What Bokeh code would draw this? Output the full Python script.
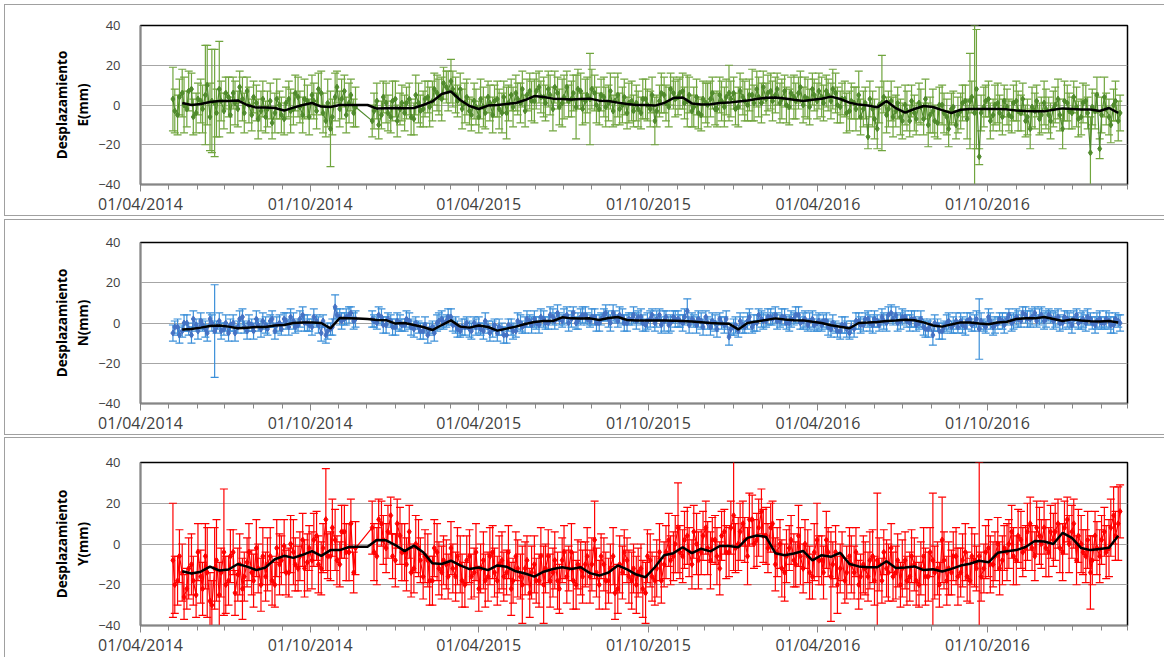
import numpy as np
import pandas as pd
from bokeh.plotting import figure
from bokeh.models import ColumnDataSource, FixedTicker, DatetimeTickFormatter, Range1d
from bokeh.layouts import column
from bokeh.embed import file_html
from bokeh.resources import INLINE

# ---------------- data ----------------
# two interleaved samplings of the daily solutions (every 5 days, offset 2 days)
RAW_START_A = "2014-05-06"
RAW_START_B = "2014-05-08"
RAW_STEP = "5D"
LINE_START = "2014-05-16"  # running mean (black)
LINE_STEP = "10D"
X_START = "2014-04-01"
X_END = "2017-03-01"
MAJOR_TICKS = ["2014-04-01", "2014-10-01", "2015-04-01", "2015-10-01", "2016-04-01", "2016-10-01"]
Y_TICKS = [-40, -20, 0, 20, 40]

E_val_a = [3, -5, 6, -2, 8, -4, 2, 5, -6, 1,
           8, -3, 4, 6, -2, 3, 7, -5, 1, -3,
           -6, 2, -4, 0, -7, 3, -2, 4, -5, 2,
           5, -3, 6, -8, -12, 4, -2, 7, 1, -4,
           None, None, None, -8, 2, -5, 1, -6, 3, -2,
           -4, 3, -7, 1, -2, 4, 2, 6, 3, 9,
           12, 5, 8, 1, -3, 2, -6, -1, 4, -5,
           3, -4, -4, 5, 6, 1, -3, 7, 2, 9,
           4, 8, -2, 6, 1, 9, 3, -1, 7, 2,
           3, 6, -2, 4, 1, -3, 5, 0, -4, 2,
           1, -4, 3, -2, -8, 2, 5, -1, 6, 4,
           7, 2, -3, 4, -5, 1, 3, -2, 5, -1,
           6, 6, -1, 4, 0, 5, 8, 1, 3, 7,
           5, 1, 7, -1, 4, 6, 0, 3, 8, 2,
           4, 7, 2, 6, -1, 3, -3, 1, 5, -2,
           -16, -2, -12, 1, -5, 2, -3, -6, 0, -8,
           -4, 1, -7, -10, -3, -9, 0, -6, -2, -10,
           -3, 2, 2, -4, -26, -1, 3, -5, 1, -6,
           -1, -6, 2, -4, -8, -12, -3, -7, 1, -5,
           -2, 3, -12, 1, -4, -1, -6, 2, -24, -3,
           -22, 4, -6, 0, -8]
E_err_a = [16, 10, 12, 9, 8, 10, 11, 25, 17, 27,
           24, 9, 10, 8, 9, 11, 7, 8, 9, 10,
           8, 9, 10, 7, 8, 9, 8, 10, 9, 8,
           10, 9, 11, 8, 19, 12, 9, 8, 10, 7,
           None, None, None, 8, 9, 7, 10, 8, 9, 8,
           9, 8, 8, 10, 9, 8, 10, 9, 11, 8,
           11, 9, 8, 10, 7, 9, 8, 10, 8, 9,
           9, 10, 13, 8, 9, 10, 8, 9, 11, 8,
           10, 9, 11, 8, 12, 8, 9, 16, 9, 11,
           23, 9, 8, 10, 9, 8, 11, 9, 8, 10,
           9, 8, 10, 9, 12, 8, 9, 10, 8, 9,
           9, 13, 8, 9, 8, 10, 9, 8, 9, 10,
           14, 8, 10, 9, 8, 13, 9, 10, 8, 9,
           9, 10, 8, 9, 11, 8, 9, 10, 8, 9,
           10, 8, 9, 10, 8, 9, 10, 8, 12, 9,
           6, 9, 10, 24, 9, 10, 8, 9, 10, 8,
           9, 10, 8, 11, 11, 8, 10, 9, 8, 7,
           9, 8, 24, 44, 4, 10, 9, 8, 10, 9,
           9, 8, 10, 9, 8, 10, 9, 8, 11, 9,
           9, 10, 10, 9, 8, 10, 9, 8, 18, 9,
           5, 10, 9, 8, 10]
E_val_b = [-3, 4, 0, 7, -6, 3, -2, 10, 2, -4,
           2, 6, -5, 1, 9, -4, 0, 4, -7, 3,
           -2, -9, 3, -5, 1, -3, 6, -1, 3, -6,
           2, 8, -4, 1, -6, 9, 3, -5, 5, -1,
           None, None, None, -3, -10, 4, -4, 2, -8, 1,
           1, -6, 5, -3, 3, -1, 8, 4, 11, 7,
           8, 2, -2, 4, -5, -1, 3, -4, 1, 2,
           -2, 4, 1, -1, 3, 8, 5, 2, 7, 4,
           1, 5, 9, -1, 4, 2, 6, 8, -2, 5,
           8, 0, 5, -1, 7, 2, -2, 4, 1, -3,
           -2, 3, 0, 5, -3, 6, 1, 8, 3, 6,
           1, 5, -1, -4, 3, 0, 6, -2, 2, 4,
           3, -2, 7, 2, 5, 1, 4, 9, 6, 2,
           8, 3, 0, 6, 2, 9, 4, -1, 5, 7,
           1, 5, 8, 0, 3, -4, 2, -2, -6, 1,
           3, -7, 0, 4, -2, -6, 1, -8, -3, 2,
           -7, -1, 3, -5, -8, 0, -4, -12, -1, -5,
           1, -7, 4, 8, -4, 2, -8, 0, -4, 2,
           -5, 1, -3, 3, -6, -1, 2, -5, -2, -8,
           0, -5, 2, -3, 4, -7, 1, -4, -1, 5,
           -5, -2, -10, 2, -4]
E_err_b = [11, 9, 14, 10, 9, 8, 12, 20, 26, 12,
           10, 8, 9, 11, 8, 10, 9, 8, 10, 9,
           9, 8, 10, 9, 8, 11, 9, 8, 10, 9,
           9, 8, 10, 12, 9, 8, 10, 9, 8, 10,
           None, None, None, 9, 7, 8, 9, 10, 8, 9,
           8, 9, 10, 8, 9, 10, 8, 9, 8, 10,
           9, 8, 10, 9, 8, 9, 10, 8, 9, 8,
           10, 8, 9, 10, 8, 9, 8, 10, 9, 8,
           9, 10, 8, 9, 11, 8, 9, 10, 8, 9,
           10, 9, 8, 10, 9, 12, 8, 9, 10, 8,
           9, 10, 8, 9, 8, 10, 9, 8, 9, 8,
           8, 9, 10, 8, 9, 11, 8, 9, 10, 9,
           9, 8, 9, 10, 8, 9, 10, 8, 9, 10,
           8, 10, 9, 8, 9, 8, 10, 9, 8, 9,
           9, 8, 10, 9, 8, 10, 9, 11, 9, 8,
           9, 10, 9, 8, 9, 10, 8, 9, 10, 8,
           8, 9, 10, 9, 8, 9, 10, 9, 8, 9,
           9, 10, 8, 30, 9, 8, 9, 10, 9, 8,
           8, 9, 10, 8, 9, 10, 8, 9, 10, 9,
           9, 8, 10, 9, 8, 9, 10, 8, 9, 9,
           9, 8, 9, 10, 9]
E_line = [1, 0, 0.5, 1.5, 2, 2, 2.3, 0, -1.3, -1.3,
          -1.5, -2.8, -1.3, 0, 1, -0.8, -1, 0, 0, 0,
          0, -1.8, -1.6, -1.5, -1.6, -1.5, 0, 1.8, 5.5, 6.8,
          2.5, -0.5, -2, -0.3, 0, 0.5, 1, 2.5, 4.5, 4,
          3.2, 3, 2.8, 3, 3.2, 2.2, 2, 1.2, 0.5, 0,
          0, -0.3, 1, 3.5, 3.8, 0.8, 0.2, 0.4, 1, 1.2,
          1.8, 2.3, 3, 3.6, 3.8, 3.3, 2.6, 2, 2.6, 3.1,
          4.2, 3, 1.2, 0.2, -0.3, -1.2, 2, -1.6, -3.8, -2,
          -0.5, -1, -2.6, -4, -2.4, -2, -2, -2, -2, -2.2,
          -2.8, -3, -3.1, -3.2, -2.4, -1.7, -2, -2.3, -2.3, -3,
          -1.5, -4]

N_val_a = [-5, -2, -4, 0, -6, -1, 1, -3, 2, -4,
           1, -3, -5, 0, -2, 3, -4, -1, 2, -3,
           -1, 1, -4, 0, 2, -2, 1, -1, 4, 0,
           -2, 1, -5, -6, -3, 8, 3, 2, 4, 1,
           None, None, None, 2, 0, 3, -1, 1, -2, 0,
           -1, 1, -3, -2, -4, -6, -2, 0, 2, 1,
           3, -1, -4, -2, -3, 0, -1, -4, -2, -3,
           -5, -3, -6, -2, -4, 0, -1, 1, 2, -1,
           2, 0, 3, 5, 1, 4, 2, 0, 3, 4,
           1, 3, 0, 4, 2, 5, 1, 3, 0, 2,
           1, 3, -1, 2, 0, 4, 1, -1, 3, 2,
           0, 6, 2, -1, 1, 3, -2, 0, 2, -1,
           -7, -2, -4, -1, 1, -2, 0, 2, 1, 3,
           4, 1, 3, 0, 2, 4, 1, -1, 2, 0,
           -1, 1, -3, -2, -4, -1, -5, -3, 1, -1,
           2, -1, 1, 3, 0, 5, 4, 1, 3, 0,
           2, 0, -2, -3, -6, -1, -4, 0, -2, 1,
           1, -2, 2, 0, -3, -1, 3, -2, 0, 1,
           2, 0, 3, 1, 4, 2, 5, 3, 1, 4,
           1, 3, 0, 2, -1, 4, 1, 0, 2, -1,
           2, 0, 1, -1, 1]
N_err_a = [4, 4, 3, 4, 4, 3, 4, 4, 3, 23,
           4, 3, 4, 4, 3, 4, 4, 3, 4, 4,
           4, 3, 4, 4, 3, 4, 4, 3, 4, 4,
           4, 3, 4, 4, 3, 6, 4, 3, 4, 4,
           None, None, None, 4, 3, 4, 4, 3, 4, 4,
           3, 4, 4, 3, 4, 4, 3, 4, 4, 3,
           4, 4, 3, 4, 4, 3, 4, 4, 3, 4,
           4, 3, 4, 4, 3, 4, 4, 3, 4, 4,
           4, 3, 4, 4, 3, 4, 4, 3, 4, 4,
           3, 4, 4, 3, 4, 4, 3, 4, 4, 3,
           4, 4, 3, 4, 4, 3, 5, 4, 3, 4,
           4, 6, 3, 4, 4, 3, 4, 4, 3, 4,
           4, 4, 3, 4, 4, 3, 4, 4, 3, 4,
           4, 3, 4, 4, 3, 4, 4, 3, 4, 4,
           3, 4, 4, 3, 4, 4, 3, 4, 4, 3,
           4, 4, 3, 4, 4, 4, 4, 4, 3, 4,
           4, 3, 4, 4, 5, 3, 4, 4, 3, 4,
           4, 4, 3, 4, 15, 3, 4, 4, 3, 4,
           3, 4, 4, 3, 4, 4, 3, 4, 4, 3,
           4, 4, 3, 4, 4, 3, 4, 4, 3, 4,
           4, 3, 4, 4, 3]
N_val_b = [-2, -6, 0, -3, 2, -4, -1, -5, 0, -2,
           -4, 0, -1, -5, 2, -2, 0, -4, -1, 1,
           -3, 2, -1, -3, 1, 3, -2, 2, 0, -1,
           3, -1, 1, -4, -2, 4, 1, 3, 5, 2,
           None, None, None, 1, 4, -1, 2, -2, 1, -1,
           2, -2, 0, -4, -1, -3, -5, 1, 0, 3,
           -1, -3, -2, 0, -4, -2, -3, 1, -5, -1,
           -2, -6, -1, -4, 1, -2, 2, -1, 0, 3,
           0, 4, 1, 2, 3, 0, 5, 1, 4, 2,
           3, 0, 2, 5, 0, 3, 4, 0, 2, 4,
           3, 0, 1, 4, 2, -1, 3, 0, 2, 1,
           3, -1, 1, 2, -2, 0, 1, -3, 0, 2,
           -3, -1, 1, -2, 3, 0, 4, 1, 3, 2,
           1, 3, 0, 2, 4, 0, 2, 1, -1, 1,
           1, -2, 0, -4, -1, -3, -2, 1, -1, 2,
           0, 2, -1, 1, 4, 2, 0, 3, 1, 2,
           -1, 2, -3, -1, 0, -4, -2, 1, -1, -2,
           -1, 1, -1, 2, 1, -2, 1, -1, 2, -1,
           4, 1, 2, 5, 2, 3, 1, 4, 2, 3,
           2, 0, 3, 1, 2, 0, 2, 3, 0, 1,
           0, 2, -1, 2, 0]
N_err_b = [3, 4, 4, 3, 4, 4, 3, 4, 4, 3,
           4, 4, 3, 4, 4, 3, 4, 4, 3, 4,
           3, 4, 4, 3, 4, 4, 3, 4, 4, 3,
           4, 4, 3, 4, 4, 3, 4, 4, 3, 4,
           None, None, None, 3, 4, 4, 3, 4, 4, 3,
           4, 4, 3, 4, 4, 3, 4, 4, 3, 4,
           3, 4, 4, 3, 4, 4, 3, 4, 4, 3,
           4, 4, 3, 4, 4, 3, 4, 4, 3, 4,
           3, 4, 4, 3, 4, 4, 3, 4, 4, 3,
           4, 4, 3, 4, 4, 3, 4, 4, 3, 4,
           3, 4, 4, 3, 4, 4, 3, 4, 4, 3,
           4, 4, 3, 4, 4, 3, 4, 4, 3, 4,
           3, 4, 4, 3, 4, 4, 3, 4, 4, 3,
           4, 4, 3, 4, 4, 3, 4, 4, 3, 4,
           3, 4, 4, 3, 4, 4, 3, 4, 4, 3,
           4, 4, 3, 4, 4, 3, 4, 4, 3, 4,
           3, 4, 4, 3, 4, 4, 3, 4, 4, 3,
           4, 4, 3, 4, 4, 3, 4, 4, 3, 4,
           3, 4, 4, 3, 4, 4, 3, 4, 4, 3,
           4, 4, 3, 4, 4, 3, 4, 4, 3, 4,
           3, 4, 4, 3, 4]
N_line = [-3.2, -3, -2.3, -1.5, -1.2, -1.8, -2.6, -2.3, -2, -2,
          -1.2, -1, 0, 0.2, 0.2, 0, -2.7, 2.5, 2.4, 2.2,
          2, 1.5, 1.4, -0.3, 0, -1, -2, -3.5, -1, 1.3,
          -1.8, -2.3, -1.2, -2, -3.8, -2.8, -1.8, -0.5, 0.5, 1,
          1, 2.8, 2.3, 2.2, 2.3, 1.5, 2.5, 3, 1.5, 1.3,
          1.3, 1.3, 1.2, 1.1, 1, 0.7, 0.4, 0, -0.2, -0.4,
          -3.2, 0, 0.8, 1.5, 2.3, 1.7, 1.4, 1.3, 0.6, 0,
          -1.1, -1.9, -2.6, 0, 0.2, 0.5, 1, 1.2, 1.6, 1.4,
          0.3, -1.2, -1.8, -0.7, 0.3, 0.2, -0.3, -0.6, 0.2, 0.6,
          2, 2.4, 2.3, 3, 2, 1, 1.8, 1.3, 0.9, 0.7,
          1, 0.3]

Y_val_a = [-8, -18, -14, -22, -10, -25, -16, -6, -28, -12,
           -25, -4, -18, -4, -15, -22, -9, -14, -2, -20,
           -16, -6, -20, -10, -1, -14, -4, -12, 2, -9,
           -8, 4, -12, 12, -6, 2, -10, 6, -4, -14,
           None, None, None, 8, -6, 10, -2, 14, -8, 4,
           -4, 6, -12, -2, -16, -8, -18, -4, -14, -10,
           -2, -16, -10, -20, -6, -14, -22, -8, -16, -4,
           -18, -8, -14, -22, -6, -16, -12, -24, -10, -18,
           -20, -6, -14, -18, -8, -16, -4, -20, -12, -10,
           -16, 2, -20, -10, -18, -6, -22, -14, -8, -18,
           -20, -12, -24, -8, -18, -4, -10, 2, -6, 8,
           -6, 4, -10, 0, -4, 8, -8, 2, -12, 6,
           -4, 14, 0, 10, -6, 12, 2, 16, 4, 8,
           -10, 0, -14, -2, -8, 4, -12, -6, -16, 2,
           -8, 2, -16, -4, -12, -18, -6, -14, -20, -10,
           -16, -6, -8, -18, -12, -2, -14, -20, -8, -16,
           -10, -20, -6, -16, -8, -12, 2, -18, -14, -6,
           -14, -4, -18, -8, -6, -12, -2, -10, 0, -8,
           -4, 6, -8, 2, -2, 10, -6, 4, 8, -4,
           2, 10, -4, 12, 6, -8, 0, -6, -14, 4,
           -6, 6, -2, 14, 10]
Y_err_a = [28, 12, 14, 10, 15, 11, 13, 16, 14, 20,
           16, 31, 12, 11, 13, 15, 12, 11, 14, 13,
           12, 14, 11, 15, 13, 12, 16, 11, 13, 14,
           14, 12, 13, 25, 12, 15, 11, 13, 14, 10,
           None, None, None, 13, 14, 11, 12, 9, 13, 14,
           14, 13, 12, 14, 11, 13, 12, 14, 13, 12,
           13, 12, 14, 11, 13, 12, 11, 14, 12, 13,
           12, 14, 11, 13, 12, 11, 13, 12, 14, 13,
           19, 13, 12, 14, 11, 13, 14, 12, 13, 11,
           13, 19, 12, 13, 11, 14, 12, 13, 11, 14,
           14, 12, 15, 13, 12, 14, 11, 13, 12, 22,
           13, 14, 12, 15, 11, 13, 14, 12, 13, 11,
           12, 27, 13, 11, 14, 12, 13, 11, 14, 12,
           13, 12, 14, 11, 13, 15, 12, 13, 11, 18,
           12, 14, 22, 13, 12, 11, 14, 13, 12, 14,
           12, 13, 33, 11, 14, 12, 13, 11, 14, 12,
           13, 11, 14, 12, 33, 13, 21, 12, 11, 14,
           12, 14, 11, 13, 46, 12, 14, 11, 13, 12,
           14, 13, 12, 14, 11, 13, 12, 14, 13, 12,
           13, 12, 14, 11, 13, 12, 14, 13, 18, 12,
           13, 12, 14, 14, 18]
Y_val_b = [-20, -6, -26, -12, -18, -4, -22, -14, -30, -8,
           -14, -20, -6, -24, -10, -16, -4, -18, -12, -6,
           -10, -18, -2, -8, -14, 0, -10, -6, -12, -2,
           2, -10, -2, -6, 8, -8, 6, -4, 10, -2,
           None, None, None, -4, 12, 2, 6, -6, 10, -4,
           -10, -14, 0, -8, -6, -18, -2, -12, -8, -16,
           -12, -6, -18, -8, -16, -4, -12, -18, -6, -14,
           -10, -16, -4, -18, -12, -20, -8, -14, -18, -6,
           -12, -18, -8, -22, -4, -12, -18, -10, -16, -6,
           -10, -14, -6, -18, -12, -24, -10, -4, -16, -12,
           -14, -22, -6, -16, -12, -18, -4, -8, 0, -4,
           2, -4, 6, -8, 4, -2, 2, -6, 4, -4,
           8, -2, 6, 2, 12, 0, 8, 4, -2, 10,
           -4, -12, -6, 2, -10, -6, 0, -14, -4, -8,
           -14, -4, -10, -20, -6, -14, -10, -4, -16, -12,
           -8, -18, -10, -4, -14, -16, -8, -12, -18, -6,
           -18, -12, -16, -4, -14, -20, -8, -12, -6, -16,
           -8, -16, -6, -12, -16, -4, -10, -6, -12, -2,
           0, -6, 4, -4, 6, -2, 8, 0, -2, 6,
           6, -2, 8, 0, 10, 4, -4, 2, -8, -2,
           2, -4, 8, 4, 16]
Y_err_b = [14, 13, 11, 15, 12, 14, 13, 22, 12, 20,
           12, 14, 13, 11, 15, 12, 14, 13, 12, 14,
           13, 12, 14, 12, 11, 14, 13, 12, 14, 11,
           13, 14, 12, 11, 14, 12, 13, 14, 12, 13,
           None, None, None, 14, 10, 12, 13, 11, 12, 14,
           13, 12, 14, 11, 13, 12, 14, 13, 12, 11,
           12, 14, 13, 12, 11, 14, 12, 13, 14, 12,
           14, 12, 13, 11, 14, 19, 12, 13, 11, 14,
           12, 13, 14, 12, 13, 11, 14, 12, 13, 14,
           13, 12, 11, 14, 12, 13, 14, 11, 13, 12,
           12, 14, 13, 12, 14, 11, 13, 12, 14, 13,
           14, 12, 13, 14, 12, 13, 11, 14, 12, 13,
           13, 12, 14, 11, 13, 12, 14, 13, 12, 11,
           12, 14, 13, 12, 11, 14, 12, 13, 14, 12,
           13, 12, 11, 14, 12, 13, 14, 12, 11, 13,
           14, 12, 13, 11, 14, 12, 13, 14, 12, 13,
           12, 13, 14, 12, 13, 11, 14, 13, 12, 14,
           13, 12, 14, 11, 12, 13, 14, 12, 13, 11,
           12, 14, 13, 12, 14, 11, 13, 12, 14, 13,
           14, 12, 13, 14, 12, 13, 11, 14, 12, 13,
           12, 13, 14, 12, 13]
Y_line = [-13.4, -14.5, -13.6, -11.1, -13, -12.5, -9.8, -11.1, -12.8, -11.5,
          -7.5, -5.8, -6.8, -5.3, -3.5, -5.8, -3, -3, -1.5, -1.3,
          -1.3, 2, 1.8, -0.5, -3.5, -0.8, -4, -9.5, -9.8, -8.2,
          -10.5, -12.3, -11.5, -12.8, -10.5, -11.2, -13.4, -14.5, -16, -13.6,
          -12.3, -11.4, -12.3, -11.4, -14.3, -15.5, -14, -10.5, -12.5, -15,
          -16.3, -11.4, -5.5, -4.5, -1.6, -4.5, -2.3, -3.6, -1, -1,
          -1.6, 3, 4.2, 3.5, -4.5, -5.5, -4.7, -3.4, -8, -5.5,
          -6.3, -4.3, -9.8, -11, -11.4, -11.4, -8.5, -11.8, -11.5, -11,
          -12.8, -12.4, -13.5, -12.2, -10.6, -9.7, -8.2, -9, -4.3, -3.6,
          -3, -1.5, 1.5, 1.2, 0, 5.5, 3, -2, -3, -2.4,
          -1.8, 4]

SERIES = [
    ("E(mm)", (E_val_a, E_err_a), (E_val_b, E_err_b), E_line, "#70A53E", "#4F8A2C"),
    ("N(mm)", (N_val_a, N_err_a), (N_val_b, N_err_b), N_line, "#3B8FD9", "#4472C4"),
    ("Y(mm)", (Y_val_a, Y_err_a), (Y_val_b, Y_err_b), Y_line, "#FF0000", "#FF0000"),
]

# ---------------- layout ----------------
W = 1160
HEIGHTS = [212, 216, 220]
TOPS = [20, 22, 24]
BOTTOMS = [33, 32, 32]
MARGINS = [(4, 0, 0, 4), (3, 0, 0, 4), (2, 0, 0, 4)]
FONT = "Open Sans"


def ms(d):
    return pd.Timestamp(d).value / 1e6


major_ms = [ms(d) for d in MAJOR_TICKS]
minor_ms = [ms(d) for d in pd.date_range(X_START, X_END, freq="MS")]
fmt = "%d/%m/%Y"


def samples(start, vals, errs):
    dates = pd.date_range(start, periods=len(vals), freq=RAW_STEP)
    return [(d, v, e) for d, v, e in zip(dates, vals, errs) if v is not None]


def make_panel(k, label, set_a, set_b, line_vals, bar_color, mark_color):
    rows = samples(RAW_START_A, *set_a) + samples(RAW_START_B, *set_b)
    rows.sort(key=lambda r: r[0])
    x = [r[0] for r in rows]
    y = np.array([r[1] for r in rows], dtype=float)
    e = np.array([r[2] for r in rows], dtype=float)
    src = ColumnDataSource(dict(x=x, y=y, up=y + e, lo=y - e))

    p = figure(width=W, height=HEIGHTS[k], x_axis_type="datetime",
               x_range=Range1d(ms(X_START), ms(X_END)), y_range=Range1d(-40, 40),
               output_backend="svg", toolbar_location=None,
               min_border_left=135, min_border_right=38,
               min_border_top=TOPS[k], min_border_bottom=BOTTOMS[k])
    p.margin = MARGINS[k]
    p.outline_line_color = "black"
    p.outline_line_width = 1.5
    p.background_fill_color = "white"
    p.border_fill_color = "white"
    sides = ["top", "left", "bottom"] if k < 2 else ["top", "left"]
    p.styles = {f"border-{s}": "1px solid #A0A0A0" for s in sides}

    p.xgrid.visible = False
    p.ygrid.ticker = FixedTicker(ticks=Y_TICKS)
    p.ygrid.grid_line_color = "#A6A6A6"
    p.ygrid.grid_line_width = 1

    # error bars
    p.segment("x", "lo", "x", "up", source=src, line_color=bar_color, line_width=1.2)
    p.scatter("x", "up", source=src, marker="dash", size=8, line_color=bar_color, line_width=1.2)
    p.scatter("x", "lo", source=src, marker="dash", size=8, line_color=bar_color, line_width=1.2)
    # raw series
    p.line("x", "y", source=src, line_color=mark_color, line_width=1.2)
    p.scatter("x", "y", source=src, marker="diamond", size=6,
              fill_color=mark_color, line_color=mark_color)
    # running mean
    ldates = pd.date_range(LINE_START, periods=len(line_vals), freq=LINE_STEP)
    p.line(ldates, line_vals, line_color="black", line_width=2.5)

    # y axis
    ya = p.yaxis[0]
    ya.ticker = FixedTicker(ticks=Y_TICKS)
    ya.major_tick_line_color = None
    ya.minor_tick_line_color = None
    ya.major_tick_out = 0
    ya.minor_tick_out = 0
    ya.axis_line_color = "#868686"
    ya.axis_line_width = 1.5
    ya.major_label_text_font = FONT
    ya.major_label_text_font_size = "13px"
    ya.major_label_text_color = "#404040"
    ya.major_label_standoff = 20
    ya.axis_label = "Desplazamiento\n" + label
    ya.axis_label_text_font = FONT
    ya.axis_label_text_font_size = "13.5px"
    ya.axis_label_text_font_style = "bold"
    ya.axis_label_text_color = "black"
    ya.axis_label_standoff = 3
    ya.axis_label_text_line_height = 1.15

    # x axis
    xa = p.xaxis[0]
    xa.ticker = FixedTicker(ticks=major_ms, minor_ticks=minor_ms)
    xa.formatter = DatetimeTickFormatter(
        microseconds=fmt, milliseconds=fmt, seconds=fmt, minsec=fmt, minutes=fmt,
        hourmin=fmt, hours=fmt, days=fmt, months=fmt, years=fmt)
    xa.axis_line_color = "#868686"
    xa.axis_line_width = 1.5
    xa.major_tick_line_color = "#868686"
    xa.minor_tick_line_color = "#868686"
    xa.major_tick_in = 0
    xa.major_tick_out = 7
    xa.minor_tick_in = 0
    xa.minor_tick_out = 5
    xa.major_label_text_font = FONT
    xa.major_label_text_font_size = "16px"
    xa.major_label_text_color = "#404040"
    xa.major_label_standoff = 1
    return p


panels = [make_panel(k, *s) for k, s in enumerate(SERIES)]
layout = column(*panels, spacing=0)

open("out.html", "w").write(file_html(layout, INLINE))
